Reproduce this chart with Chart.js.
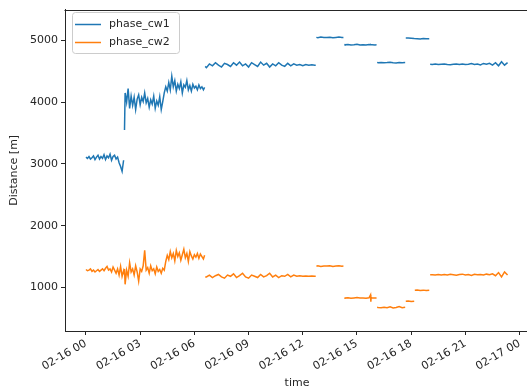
<!DOCTYPE html>
<html>
<head>
<meta charset="utf-8">
<script src="https://cdn.jsdelivr.net/npm/chart.js@4"></script>
<style>
  html, body { margin: 0; padding: 0; background: #fff; overflow: hidden; }
</style>
</head>
<body>
<canvas id="myChart" width="530" height="391"></canvas>
<script>
// minutes after 02-16 00:00
let minutes = [
    0,5,10,15,20,25,30,35,40,45,50,55,60,65,70,75,80,85,90,95,100,105,110,115,120,125,
    127,128,
    130,135,140,145,150,155,160,165,170,175,180,185,190,195,200,205,210,215,220,225,230,235,240,245,250,255,260,
    265,270,275,280,285,290,295,300,305,310,315,320,325,330,335,340,345,350,355,360,365,370,375,380,385,390,
    394,395,396,
    400,410,420,430,440,450,460,470,480,490,500,510,520,530,540,550,560,570,580,590,600,610,620,630,640,650,660,670,680,690,700,710,720,730,740,750,760,
    763,764,765,
    770,780,790,800,810,820,830,840,850,
    855,857,858,
    860,870,880,890,900,910,920,930,940,945,946,947,950,960,
    965,966,967,
    970,980,990,1000,1010,1020,1030,1040,1050,1060,
    1061,1062,
    1070,1080,1090,
    1091,1092,
    1100,1110,1120,1130,1140,
    1141,1142,1143,
    1150,1160,1170,1180,1190,1200,1210,1220,1230,1240,1250,1260,1270,1280,1290,1300,1310,1320,1330,1340,1350,1360,1370,1380,1390,1400
];

let phaseCw1 = [
    3110,3090,3120,3080,3100,3130,3070,3110,3140,3080,3120,3090,3150,3070,3130,3100,3160,3060,3120,3140,3080,3110,3020,2960,2880,3060,
    null,3550,
    4150,4000,4220,3900,4100,3950,4080,3880,4050,4120,3960,4080,4010,4150,3990,4060,3920,4040,3970,4100,3900,4020,3950,4090,3880,4010,4150,
    4250,4180,4320,4200,4420,4250,4350,4180,4290,4220,4330,4150,4280,4240,4350,4200,4270,4180,4290,4230,4260,4200,4280,4220,4250,4200,
    4240,null,4580,
    4560,4620,4590,4640,4600,4570,4630,4610,4580,4640,4600,4650,4590,4620,4570,4640,4610,4580,4650,4600,4630,4570,4620,4590,4640,4600,4580,4630,4590,4620,4600,4610,4590,4610,4600,4605,4600,
    4600,null,5050,
    5045,5055,5050,5048,5052,5045,5050,5055,5048,
    5050,null,4935,
    4930,4935,4925,4930,4940,4928,4932,4925,4935,4930,4932,4930,4930,4928,
    4930,null,4645,
    4640,4645,4638,4642,4648,4640,4636,4644,4640,4642,
    null,5040,
    5040,5035,5030,
    5030,5030,
    5028,5025,5030,5026,5028,
    5028,null,4615,
    4612,4618,4610,4615,4620,4612,4608,4615,4618,4612,4620,4610,4615,4625,4612,4618,4605,4628,4615,4630,4600,4640,4590,4655,4600,4640
];

let phaseCw2 = [
    1290,1270,1280,1300,1260,1280,1250,1270,1290,1260,1280,1300,1270,1310,1340,1280,1300,1250,1330,1280,1230,1300,1200,1340,1180,1270,
    1220,1300,
    1050,1280,1180,1400,1250,1300,1200,1350,1250,1100,1300,1260,1350,1600,1280,1320,1230,1350,1270,1300,1220,1330,1260,1290,1230,1310,1280,
    1420,1520,1450,1580,1480,1550,1430,1600,1500,1560,1440,1530,1620,1480,1550,1420,1580,1510,1460,1530,1490,1550,1470,1540,1500,1460,
    1520,null,1170,
    1170,1200,1160,1190,1210,1170,1150,1200,1180,1220,1160,1190,1230,1170,1150,1200,1180,1160,1210,1170,1190,1230,1170,1200,1160,1190,1180,1210,1170,1200,1180,1190,1180,1185,1180,1185,1180,
    1180,null,1345,
    1350,1340,1348,1345,1352,1340,1345,1350,1342,
    1345,null,830,
    828,832,825,830,835,828,830,826,832,880,770,835,830,829,
    830,null,680,
    675,670,680,672,685,668,675,690,672,678,
    null,775,
    778,772,776,
    null,955,
    958,952,956,950,955,
    955,null,1205,
    1205,1200,1210,1202,1208,1200,1212,1205,1198,1210,1215,1202,1208,1195,1212,1205,1210,1200,1215,1205,1220,1190,1240,1170,1250,1200
];

let seriesNames = ['phase_cw1', 'phase_cw2'];
let xTickHours = [0, 3, 6, 9, 12, 15, 18, 21, 24];
let xTickLabels = ['02-16 00', '02-16 03', '02-16 06', '02-16 09', '02-16 12', '02-16 15', '02-16 18', '02-16 21', '02-17 00'];
let yTicks = [1000, 2000, 3000, 4000, 5000];

let colorset = ['#1f77b4', '#ff7f0e'];
let ink = '#262626';

Chart.defaults.font.family = "'DejaVu Sans', sans-serif";
Chart.defaults.font.size = 11;
Chart.defaults.color = ink;

function toPoints(values) {
    let pts = [];
    minutes.forEach((m, i) => pts.push({x: m / 60, y: values[i]}));
    return pts;
}

// matplotlib style top spine + legend inside the axes
let framePlugin = {
    id: 'frame',
    afterDraw(chart) {
        let ctx = chart.ctx;
        let a = chart.chartArea;
        ctx.save();
        ctx.strokeStyle = ink;
        ctx.lineWidth = 1;
        // the right spine lies just outside the picture
        ctx.beginPath();
        ctx.moveTo(Math.round(a.left) - 0.5, Math.round(a.top) + 0.5);
        ctx.lineTo(chart.width, Math.round(a.top) + 0.5);
        ctx.stroke();

        // legend box
        let bx = 72, by = 12, bw = 107, bh = 41;
        ctx.fillStyle = 'rgba(255,255,255,0.8)';
        ctx.strokeStyle = '#cccccc';
        ctx.beginPath();
        ctx.roundRect(bx + 0.5, by + 0.5, bw, bh, 3);
        ctx.fill();
        ctx.stroke();

        ctx.font = "11px 'DejaVu Sans'";
        ctx.textBaseline = 'middle';
        chart.data.datasets.forEach((ds, i) => {
            let y = by + 12.5 + i * 18;
            ctx.strokeStyle = ds.borderColor;
            ctx.lineWidth = 1.5;
            ctx.beginPath();
            ctx.moveTo(bx + 3, y);
            ctx.lineTo(bx + 29, y);
            ctx.stroke();
            ctx.fillStyle = ink;
            ctx.fillText(ds.label, bx + 37, y);
        });
        ctx.restore();
    }
};

let ctx = document.getElementById('myChart').getContext('2d');

let myChart = new Chart(ctx, {
    type: 'line',
    data: {
        datasets: [{
            label: seriesNames[0],
            data: toPoints(phaseCw1),
            borderColor: colorset[0],
            backgroundColor: colorset[0]
        }, {
            label: seriesNames[1],
            data: toPoints(phaseCw2),
            borderColor: colorset[1],
            backgroundColor: colorset[1]
        }]
    },
    options: {
        responsive: false,
        animation: false,
        spanGaps: false,
        elements: {
            line: {borderWidth: 1.5, tension: 0},
            point: {radius: 0, hoverRadius: 0}
        },
        layout: {padding: {top: 7, right: 1, left: 0, bottom: 0}},
        plugins: {
            legend: {display: false},
            tooltip: {enabled: false}
        },
        scales: {
            x: {
                type: 'linear',
                min: -1.16,
                max: 24.52,
                afterFit: (scale) => { scale.height = 60; },
                afterBuildTicks: (scale) => { scale.ticks = xTickHours.map(h => ({value: h})); },
                ticks: {
                    autoSkip: false,
                    minRotation: 30,
                    maxRotation: 30,
                    padding: 2,
                    callback: (value, index) => xTickLabels[index]
                },
                grid: {drawOnChartArea: false, drawTicks: true, tickLength: 4, color: ink},
                border: {display: true, color: ink},
                title: {display: true, text: 'time', padding: {top: 0, bottom: 1}}
            },
            y: {
                min: 294,
                max: 5500,
                afterFit: (scale) => { scale.width = 65; },
                afterBuildTicks: (scale) => { scale.ticks = yTicks.map(v => ({value: v})); },
                ticks: {
                    padding: 3,
                    callback: (value) => String(value)
                },
                grid: {drawOnChartArea: false, drawTicks: true, tickLength: 4, color: ink},
                border: {display: true, color: ink},
                title: {display: true, text: 'Distance [m]', padding: {top: 8, bottom: 0}}
            }
        }
    },
    plugins: [framePlugin]
});
</script>
</body>
</html>
